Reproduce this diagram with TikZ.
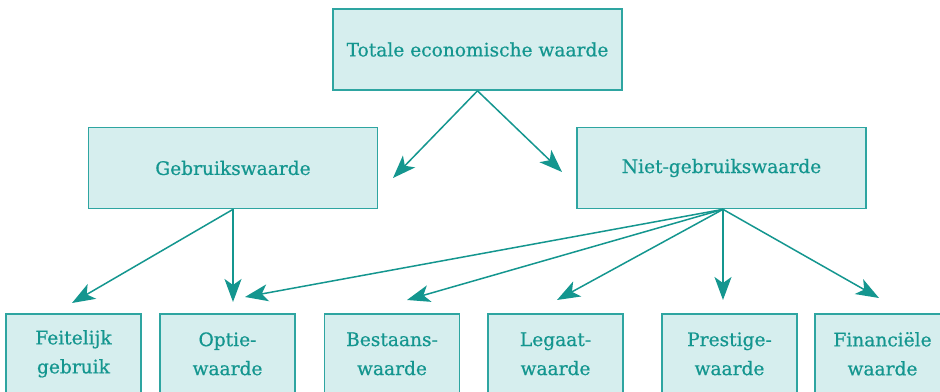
\documentclass[tikz,border=0pt]{standalone}
\usepackage{fontspec}
\setmainfont{DejaVu Serif}
\newfontfamily\doosfont{DejaVu Serif}[FakeBold=0.6]
\usetikzlibrary{arrows.meta}

\definecolor{teal1}{HTML}{14968F}
\definecolor{teal2}{HTML}{2EA5A1}
\definecolor{lichtblauw}{HTML}{D6EEEE}

\begin{document}
\begin{tikzpicture}[x=1pt,y=-1pt,
  box/.style={draw=teal2,line width=1.7pt,fill=lichtblauw,text=teal1,
    minimum width=289pt,minimum height=81pt,inner sep=0pt,
    font=\doosfont\fontsize{18.6}{29}\selectfont},
  kleinbox/.style={box,minimum width=135pt,minimum height=80pt,
    align=center,text width=135pt},
  pijl/.style={draw=teal1,line width=1.5pt,
    -{Stealth[length=23pt,width=17pt,inset=6pt]}}]

\useasboundingbox (0,0) rectangle (940,391);
\clip (0,0) rectangle (940,391);

% Bovenste niveau
\node[box] (totaal) at (477.5,49.5)
{Totale economische waarde};

% Tweede niveau
\node[box] (gebruik) at (233,168)
{Gebruikswaarde};

\node[box] (niet) at (721.5,168)
{Niet-gebruikswaarde};

% Onderste niveau
\node[kleinbox,anchor=north] (feit) at (73.5,313)
{Feitelijk\\gebruik};

\node[kleinbox,anchor=north] (optie) at (227.5,313)
{Optie-\\waarde};

\node[kleinbox,anchor=north] (bestaan) at (392,313)
{Bestaans-\\waarde};

\node[kleinbox,anchor=north] (legaat) at (555.5,313)
{Legaat-\\waarde};

\node[kleinbox,anchor=north] (prestige) at (729.5,313)
{Prestige-\\waarde};

\node[kleinbox,anchor=north] (financ) at (882.5,313)
{Financiële\\waarde};

% Eindpunten van de pijlen
\coordinate (p-gebruik) at (393,178);
\coordinate (p-niet) at (562,172);
\coordinate (p-feit) at (72,303);
\coordinate (p-optie1) at (233,302);
\coordinate (p-optie2) at (245,297);
\coordinate (p-bestaan) at (407,300);
\coordinate (p-legaat) at (557,300);
\coordinate (p-prestige) at (723,300);
\coordinate (p-financ) at (879,298);

% Pijlen
\draw[pijl] (totaal.south) -- (p-gebruik);
\draw[pijl] (totaal.south) -- (p-niet);

\draw[pijl] (gebruik.south) -- (p-feit);
\draw[pijl] (gebruik.south) -- (p-optie1);

\foreach \doel in {optie2,bestaan,legaat,prestige,financ}
{
\draw[pijl] ([xshift=1.5pt]niet.south) -- (p-\doel);
}

\end{tikzpicture}
\end{document}
